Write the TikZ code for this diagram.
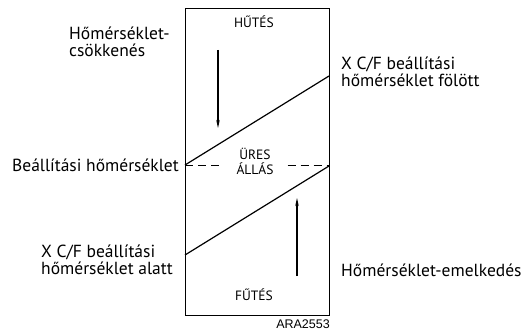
\documentclass[tikz,border=0pt]{standalone}
\usepackage{fontspec}
\setmainfont{PT Sans}
\newfontfamily\codefont{Liberation Sans}
\usetikzlibrary{arrows.meta, positioning}

\begin{document}
\begin{tikzpicture}[
  x=1pt, y=-1pt,
  zone/.style={
    font=\fontsize{13.5}{15}\selectfont, align=center, inner sep=1pt
  },
  note/.style={
    font=\fontsize{17.5}{16.5}\selectfont, align=left, inner sep=0pt
  },
  band/.style={line width=1.2pt},
  trend/.style={
    -{Stealth[length=8pt, width=3.5pt]}, line width=1.1pt
  }
]
\useasboundingbox (0,0) rectangle (529,331);

% Box
\node[draw, line width=1.1pt, minimum width=144pt, minimum height=307pt,
  inner sep=0pt, anchor=north west] (box) at (185,8) {};

% Zones
\node[zone] (cool) at (254,22) {HŰTÉS};
\node[zone] (heat) at (254,295) {FŰTÉS};
\node[zone, inner xsep=14pt] (idle) at (255,161) {ÜRES\\ÁLLÁS};
\node[font=\codefont\fontsize{12.5}{13}\selectfont, anchor=north east, inner sep=0pt] (code) at (330,320) {ARA2553};

% Switching points
\coordinate (upL) at (185,165);
\coordinate (upR) at (329,76);
\coordinate (loL) at (185,255);
\coordinate (loR) at (329,166);
\coordinate (setR) at (329,165);

% Switching lines
\draw[band] (upL) -- (upR);
\draw[band] (loL) -- (loR);
\draw[line width=1pt, dash pattern=on 8pt off 5pt] (upL) -- (upL -| idle.west);
\draw[line width=1pt, dash pattern=on 8pt off 5pt] (setR -| idle.east) -- (setR);

% Trend arrows
\coordinate (dnA) at (218,50);
\coordinate (dnB) at (218,128);
\coordinate (upA) at (297,276);
\coordinate (upB) at (297,198);
\draw[trend] (dnA) -- (dnB);
\draw[trend] (upA) -- (upB);

% Labels left
\node[note, anchor=west] (fall) at (69,42) {Hőmérséklet-\\csökkenés};
\node[note, anchor=east] (set) at (179,165) {Beállítási hőmérséklet};
\node[note, anchor=west] (below) at (41,260) {X C/F beállítási\\hőmérséklet alatt};

% Labels right
\node[note, anchor=west] (above) at (341,72) {X C/F beállítási\\hőmérséklet fölött};
\node[note, anchor=west] (rise) at (341,270) {Hőmérséklet-emelkedés};

\end{tikzpicture}
\end{document}
